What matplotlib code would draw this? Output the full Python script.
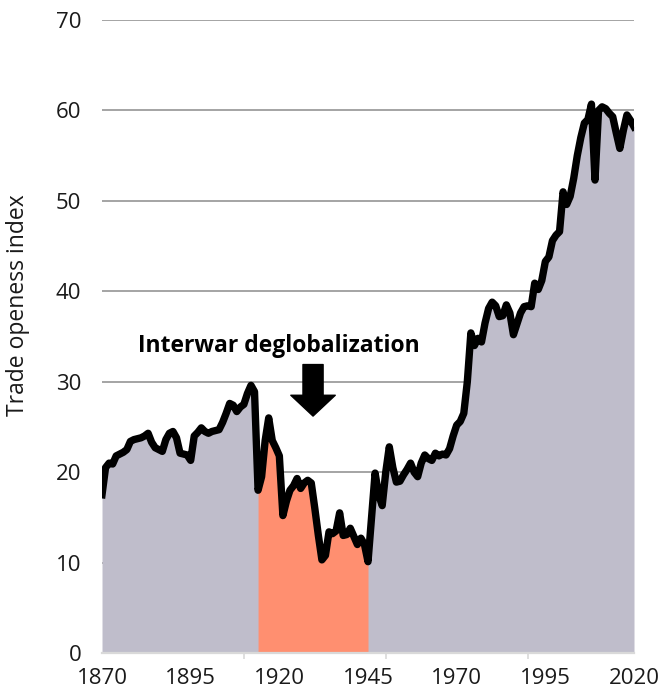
import matplotlib.pyplot as plt
import numpy as np

plt.rcParams['font.family'] = ['Open Sans', 'DejaVu Sans']

# trade openness index, one value per year 1870-2020
years = np.arange(1870, 2021)
openness = [
    17.5, 20.5, 21.0, 20.9, 21.8, 22.0, 22.2, 22.5, 23.4, 23.6,   # 1870s
    23.7, 23.8, 24.0, 24.3, 23.3, 22.7, 22.5, 22.3, 23.6, 24.3,   # 1880s
    24.5, 23.8, 22.1, 22.0, 21.9, 21.3, 24.0, 24.4, 24.9, 24.5,   # 1890s
    24.3, 24.5, 24.6, 24.7, 25.5, 26.5, 27.6, 27.4, 26.7, 27.2,   # 1900s
    27.5, 28.7, 29.6, 28.9, 18.0, 19.5, 23.5, 26.0, 23.5, 22.7,   # 1910s
    21.8, 15.2, 16.8, 18.0, 18.5, 19.3, 18.2, 18.8, 19.1, 18.8,   # 1920s
    16.0, 13.0, 10.3, 10.8, 13.4, 13.2, 13.5, 15.5, 13.0, 13.1,   # 1930s
    13.8, 12.9, 12.0, 12.7, 12.0, 10.1, 15.0, 19.9, 17.5, 16.3,   # 1940s
    20.0, 22.8, 20.5, 18.9, 19.0, 19.7, 20.3, 21.0, 20.0, 19.5,   # 1950s
    21.0, 21.9, 21.5, 21.3, 22.1, 21.8, 22.0, 21.9, 22.6, 24.0,   # 1960s
    25.2, 25.6, 26.5, 30.0, 35.4, 34.0, 34.8, 34.4, 36.5, 38.1,   # 1970s
    38.8, 38.4, 37.2, 37.3, 38.5, 37.6, 35.2, 36.4, 37.6, 38.3,   # 1980s
    38.4, 38.3, 40.9, 40.2, 41.2, 43.3, 43.8, 45.6, 46.2, 46.6,   # 1990s
    51.0, 49.6, 50.5, 52.5, 55.0, 57.0, 58.6, 59.0, 60.7, 52.3,   # 2000s
    60.0, 60.4, 60.2, 59.7, 59.3, 57.5, 55.8, 57.8, 59.5, 58.9,   # 2010s
    58.2,                                                         # 2020
]
openness = np.array(openness)

interwar_start, interwar_end = 1914, 1945
label_years = [1870, 1895, 1920, 1945, 1970, 1995, 2020]
mark_years = [1870, 1910, 1950, 1990]
y_ticks = [0, 10, 20, 30, 40, 50, 60, 70]

fig = plt.figure(figsize=(6.65, 6.95), dpi=100)
ax = fig.add_axes([0.1534, 0.0604, 0.8, 0.9108])

ax.fill_between(years, openness, color='#bfbdcb', linewidth=0, zorder=1)
war = (years >= interwar_start) & (years <= interwar_end)
ax.fill_between(years[war], openness[war], color='#ff8f70', linewidth=0, zorder=2)
ax.plot(years, openness, color='black', linewidth=5.3, solid_joinstyle='round', zorder=4)

ax.set_xlim(1870, 2020)
ax.set_ylim(0, 70)
ax.set_yticks(y_ticks)
ax.set_xticks(label_years)
ax.set_xticks(mark_years, minor=True)
ax.grid(axis='y', color='#8c8c8c', linewidth=1.1, zorder=0)
ax.set_axisbelow(True)

for side in ['top', 'right', 'left']:
    ax.spines[side].set_visible(False)
ax.spines['bottom'].set_color('#d9d9d9')
ax.spines['bottom'].set_linewidth(1.6)
ax.spines['bottom'].set_zorder(5)

ax.tick_params(axis='y', length=0, pad=15, labelsize=16, labelcolor='#1a1a1a')
ax.tick_params(axis='x', which='major', length=0, pad=11, labelsize=16, labelcolor='#1a1a1a')
ax.tick_params(axis='x', which='minor', length=4, width=1.2, color='#d9d9d9')

ax.set_ylabel('Trade openess index', fontsize=16.5, color='#1a1a1a')
ax.yaxis.set_label_coords(-0.136, 0.55)

ax.text(1920, 33.9, 'Interwar deglobalization', fontsize=16.5, fontweight='bold',
        ha='center', va='center', color='black')
ax.annotate('', xy=(1929.5, 26.2), xytext=(1929.5, 31.9),
            arrowprops=dict(arrowstyle='simple,head_width=3.2,head_length=1.5,tail_width=1.45',
                            mutation_scale=10, color='black', shrinkA=0, shrinkB=0))

fig.savefig('out.png', dpi=100)
